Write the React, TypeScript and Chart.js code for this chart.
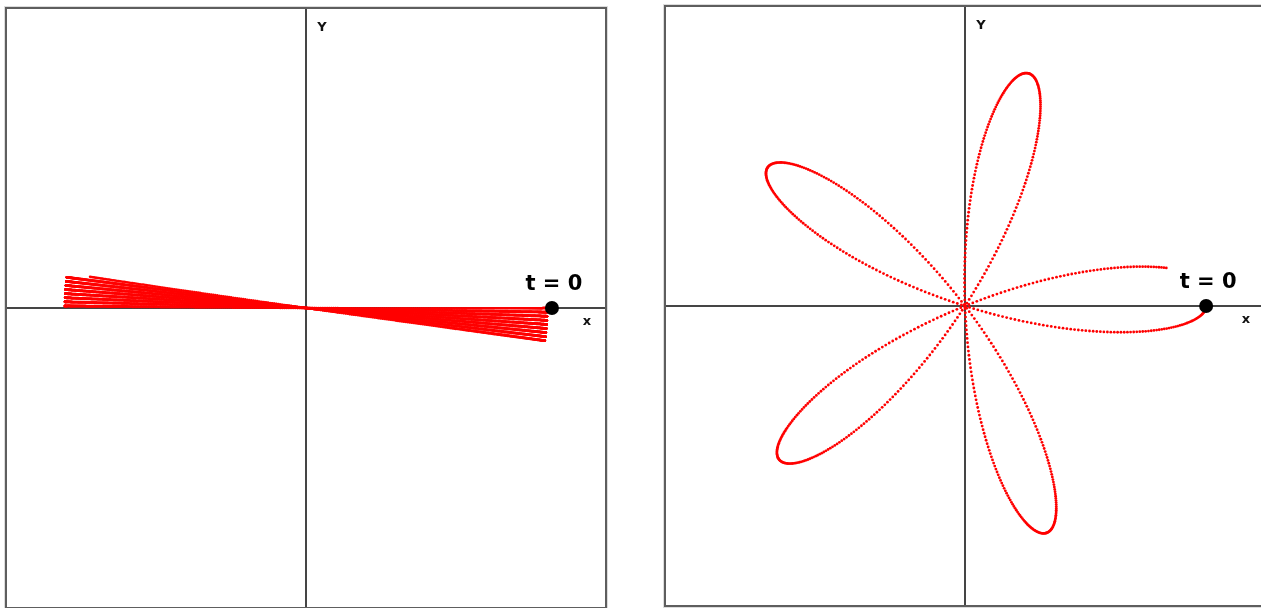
import React, { useEffect, useRef } from "react";
import { Chart, registerables } from "chart.js";

Chart.register(...registerables);

// Each panel traces a rose curve r = cos(k·θ), swept clockwise from θ = 0 (the t = 0 point)
// up to the angle reached in the current frame.
const roseK = [369.2, 5.128];
const sweepEndDeg = [-8.22, -169.3];
const sampleCount = [6000, 850];
const dotRadius = [1.25, 1.4];
const startX = [1.02, 1];
const startY = [0, 0];
const panelLeft = [5, 664];
const panelTop = [7, 5];
const axisMin = -1.24;
const axisMax = 1.24;
const xAxisLabel = "x";
const yAxisLabel = "Y";
const startLabel = "t = 0";

const CANVAS_SIZE = 598;

function rosePoints(k: number, endDeg: number, n: number) {
  const pts: { x: number; y: number }[] = [];
  const end = (endDeg * Math.PI) / 180;
  for (let i = 0; i <= n; i++) {
    const th = (end * i) / n;
    const r = Math.cos(k * th);
    pts.push({ x: r * Math.cos(th), y: r * Math.sin(th) });
  }
  return pts;
}

const axesPlugin = {
  id: "crossAxes",
  beforeDatasetsDraw(chart: any) {
    const { ctx, chartArea, scales } = chart;
    const x0 = scales.x.getPixelForValue(0);
    const y0 = scales.y.getPixelForValue(0);
    ctx.save();
    ctx.strokeStyle = "#454545";
    ctx.lineWidth = 2;
    ctx.beginPath();
    ctx.moveTo(x0, chartArea.top);
    ctx.lineTo(x0, chartArea.bottom);
    ctx.moveTo(chartArea.left, y0);
    ctx.lineTo(chartArea.right, y0);
    ctx.stroke();
    ctx.restore();
  },
  afterDraw(chart: any) {
    const { ctx, chartArea, scales } = chart;
    const x0 = scales.x.getPixelForValue(0);
    const y0 = scales.y.getPixelForValue(0);
    ctx.save();
    ctx.fillStyle = "#111";
    ctx.textAlign = "center";
    ctx.textBaseline = "middle";
    ctx.font = "bold 13px 'DejaVu Sans'";
    ctx.fillText(yAxisLabel, x0 + 16, chartArea.top + 19);
    ctx.fillText(xAxisLabel, chartArea.right - 18, y0 + 14);

    const ds = chart.data.datasets[0].data[0];
    const px = scales.x.getPixelForValue(ds.x);
    const py = scales.y.getPixelForValue(ds.y);
    ctx.textBaseline = "alphabetic";
    ctx.font = "bold 21px 'DejaVu Sans'";
    ctx.fillStyle = "#000";
    ctx.fillText(startLabel, px + 2, py - 18);
    ctx.restore();
  },
};

function RosePanel({ index }: { index: number }) {
  const canvasRef = useRef<HTMLCanvasElement | null>(null);

  useEffect(() => {
    if (!canvasRef.current) return;
    const chart = new Chart(canvasRef.current, {
      type: "scatter",
      data: {
        datasets: [
          {
            data: [{ x: startX[index], y: startY[index] }],
            pointRadius: 7,
            backgroundColor: "#000000",
            borderWidth: 0,
            order: 0,
            clip: false,
          } as any,
          {
            data: rosePoints(roseK[index], sweepEndDeg[index], sampleCount[index]),
            pointRadius: dotRadius[index],
            backgroundColor: "#ff0000",
            borderWidth: 0,
            order: 1,
            clip: false,
          } as any,
        ],
      },
      options: {
        animation: false,
        responsive: false,
        events: [],
        layout: { padding: 0, autoPadding: false },
        plugins: {
          legend: { display: false },
          tooltip: { enabled: false },
        },
        scales: {
          x: { type: "linear", min: axisMin, max: axisMax, display: false },
          y: { type: "linear", min: axisMin, max: axisMax, display: false },
        },
      } as any,
      plugins: [axesPlugin],
    });
    return () => chart.destroy();
  }, [index]);

  return (
    <div
      style={{
        position: "absolute",
        left: panelLeft[index],
        top: panelTop[index],
        border: "2px solid #5e5e5e",
        boxShadow: "0 0 0 1px #dcdcdc",
        background: "#fff",
        lineHeight: 0,
      }}
    >
      <canvas
        ref={canvasRef}
        width={CANVAS_SIZE}
        height={CANVAS_SIZE}
        style={{ display: "block", width: CANVAS_SIZE, height: CANVAS_SIZE }}
      />
    </div>
  );
}

export default function App() {
  return (
    <div
      style={{
        position: "fixed",
        left: 0,
        top: 0,
        width: "100vw",
        height: "100vh",
        overflow: "hidden",
        background: "#fff",
      }}
    >
      <RosePanel index={0} />
      <RosePanel index={1} />
    </div>
  );
}
